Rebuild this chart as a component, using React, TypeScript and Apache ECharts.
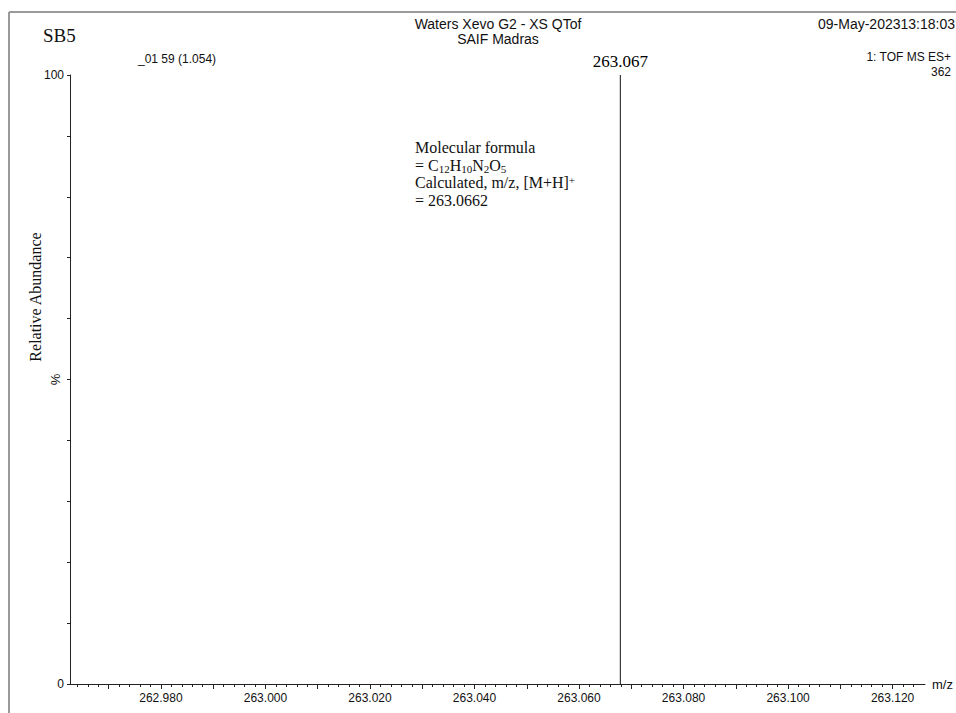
import React, { useEffect, useRef } from "react";
import * as echarts from "echarts";

// ---- data ----
const peakMz: number[] = [263.0679];
const peakRelAbundance: number[] = [100];
const peakLabels: string[] = ["263.067"];
const xLabelValues: number[] = [262.98, 263.0, 263.02, 263.04, 263.06, 263.08, 263.1, 263.12];
const xMajorTicks: number[] = [262.97, 262.98, 262.99, 263.0, 263.01, 263.02, 263.03, 263.04, 263.05, 263.06, 263.07, 263.08, 263.09, 263.1, 263.11, 263.12];
const xMinorTicks: number[] = [];
for (let i = 262964; i <= 263124; i += 2) {
  if (i % 10 !== 0) xMinorTicks.push(i / 1000);
}
const xMin = 262.9626;
const xMax = 263.1262;
const yLabelValues: number[] = [0, 100];
const yPercentValues: number[] = [50];

const SERIF = "Liberation Serif";
const SANS = "Liberation Sans";

export default function App() {
  const ref = useRef<HTMLDivElement>(null);
  useEffect(() => {
    if (!ref.current) return;
    const chart = echarts.init(ref.current, null, { renderer: "svg" });
    const grid = { left: 70, right: 31, top: 75, bottom: 29 };
    const lineData: any[] = [];
    peakMz.forEach((m, i) => {
      lineData.push([m, 0]);
      lineData.push([m, peakRelAbundance[i]]);
    });
    const option: any = {
      animation: false,
      backgroundColor: "#fff",
      grid,
      xAxis: [
        {
          type: "value",
          min: xMin,
          max: xMax,
          splitLine: { show: false },
          axisLine: { show: true, lineStyle: { color: "#222", width: 1 } },
          axisTick: { show: true, customValues: xMajorTicks, length: 5, lineStyle: { color: "#222" } },
          axisLabel: {
            show: true,
            customValues: xLabelValues,
            formatter: (v: number) => v.toFixed(3),
            fontFamily: SANS,
            fontSize: 12,
            color: "#111",
            margin: 8,
          },
          name: "m/z",
          nameLocation: "end",
          nameGap: 7,
          nameTextStyle: { fontFamily: SANS, fontSize: 13, color: "#111" },
        },
        {
          type: "value",
          min: xMin,
          max: xMax,
          position: "bottom",
          splitLine: { show: false },
          axisLine: { show: false },
          axisTick: { show: true, customValues: xMinorTicks, length: 3, lineStyle: { color: "#222" } },
          axisLabel: { show: false },
        },
      ],
      yAxis: [
        {
          type: "value",
          min: 0,
          max: 100,
          interval: 10,
          splitLine: { show: false },
          axisLine: { show: true, lineStyle: { color: "#222", width: 1 } },
          axisTick: { show: true, length: 3, lineStyle: { color: "#222" } },
          axisLabel: {
            show: true,
            customValues: yLabelValues,
            fontFamily: SANS,
            fontSize: 12,
            color: "#111",
            margin: 6,
          },
        },
        {
          type: "value",
          min: 0,
          max: 100,
          position: "left",
          splitLine: { show: false },
          axisLine: { show: false },
          axisTick: { show: false },
          axisLabel: {
            show: true,
            customValues: yPercentValues,
            formatter: () => "%",
            rotate: 90,
            fontFamily: SANS,
            fontSize: 13,
            color: "#111",
            margin: 8,
          },
        },
      ],
      series: [
        {
          type: "line",
          xAxisIndex: 0,
          yAxisIndex: 0,
          data: lineData,
          symbol: "none",
          lineStyle: { color: "#111", width: 1 },
          silent: true,
        },
        {
          type: "scatter",
          xAxisIndex: 0,
          yAxisIndex: 0,
          data: peakMz.map((m, i) => [m, peakRelAbundance[i]]),
          symbolSize: 0,
          itemStyle: { color: "#111", opacity: 1 },
          label: {
            show: true,
            position: "top",
            distance: 5,
            formatter: (p: any) => peakLabels[p.dataIndex],
            fontFamily: SERIF,
            fontSize: 17,
            color: "#000",
            opacity: 1,
            textBorderWidth: 0,
          },
          emphasis: { disabled: true },
          silent: true,
        },
      ],
      graphic: [
        { type: "line", shape: { x1: 9, y1: 12, x2: 956, y2: 12 }, style: { stroke: "#9a9a9a", lineWidth: 2 } },
        { type: "line", shape: { x1: 9, y1: 12, x2: 9, y2: 713 }, style: { stroke: "#9a9a9a", lineWidth: 2 } },
        { type: "text", x: 43, y: 35, style: { text: "SB5", font: `19px "${SERIF}"`, fill: "#111", align: "left", verticalAlign: "middle" } },
        { type: "text", x: 138, y: 59, style: { text: "_01 59 (1.054)", font: `12px "${SANS}"`, fill: "#111", align: "left", verticalAlign: "middle" } },
        { type: "text", x: 498, y: 24, style: { text: "Waters Xevo G2 - XS QTof", font: `14px "${SANS}"`, fill: "#111", align: "center", verticalAlign: "middle" } },
        { type: "text", x: 498, y: 39, style: { text: "SAIF Madras", font: `14px "${SANS}"`, fill: "#111", align: "center", verticalAlign: "middle" } },
        { type: "text", x: 955, y: 24, style: { text: "09-May-202313:18:03", font: `14px "${SANS}"`, fill: "#111", align: "right", verticalAlign: "middle" } },
        { type: "text", x: 951, y: 57, style: { text: "1: TOF MS ES+", font: `12px "${SANS}"`, fill: "#111", align: "right", verticalAlign: "middle" } },
        { type: "text", x: 951, y: 72, style: { text: "362", font: `12px "${SANS}"`, fill: "#111", align: "right", verticalAlign: "middle" } },
        {
          type: "text",
          x: 35,
          y: 297,
          rotation: Math.PI / 2,
          style: { text: "Relative Abundance", font: `16px "${SERIF}"`, fill: "#111", align: "center", verticalAlign: "middle" },
        },
        {
          type: "text",
          x: 415,
          y: 139,
          style: {
            text:
              "{a|Molecular formula}\n{a|= C}{s|12}{a|H}{s|10}{a|N}{s|2}{a|O}{s|5}\n{a|Calculated, m/z, [M+H]}{p|+}\n{a|= 263.0662}",
            fill: "#111",
            align: "left",
            verticalAlign: "top",
            rich: {
              a: { fontFamily: SERIF, fontSize: 16, lineHeight: 17.5, fill: "#111" },
              s: { fontFamily: SERIF, fontSize: 11, lineHeight: 12, verticalAlign: "bottom", fill: "#111" },
              p: { fontFamily: SERIF, fontSize: 11, lineHeight: 10, verticalAlign: "top", fill: "#111" },
            },
          },
        },
      ],
    };
    chart.setOption(option);
    return () => chart.dispose();
  }, []);
  return (
    <div
      ref={ref}
      style={{ position: "fixed", left: 0, top: 0, width: 956, height: 713, background: "#fff" }}
    />
  );
}
